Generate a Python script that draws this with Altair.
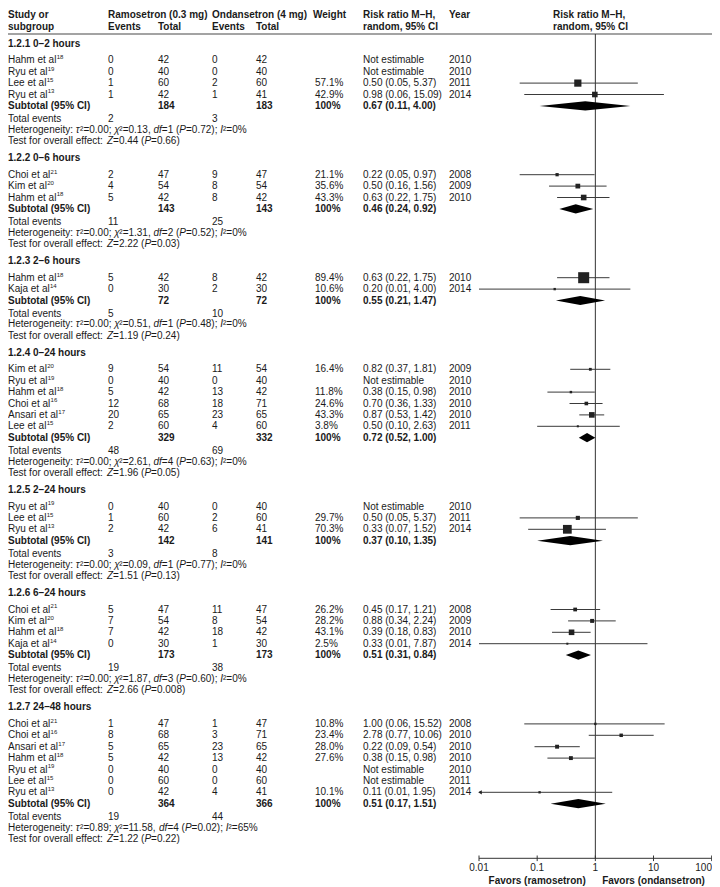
import altair as alt
import pandas as pd

# ---------------- data ----------------
GROUP_LABELS = ["1.2.1 0–2 hours", "1.2.2 0–6 hours", "1.2.3 2–6 hours", "1.2.4 0–24 hours",
                "1.2.5 2–24 hours", "1.2.6 6–24 hours", "1.2.7 24–48 hours"]

STUDY_GROUP = [0, 0, 0, 0, 1, 1, 1, 2, 2, 3, 3, 3, 3, 3, 3, 4, 4, 4, 5, 5, 5, 5, 6, 6, 6, 6, 6, 6, 6]
STUDY_AUTHOR = ["Hahm et al", "Ryu et al", "Lee et al", "Ryu et al",
                "Choi et al", "Kim et al", "Hahm et al",
                "Hahm et al", "Kaja et al",
                "Kim et al", "Ryu et al", "Hahm et al", "Choi et al", "Ansari et al", "Lee et al",
                "Ryu et al", "Lee et al", "Ryu et al",
                "Choi et al", "Kim et al", "Hahm et al", "Kaja et al",
                "Choi et al", "Choi et al", "Ansari et al", "Hahm et al", "Ryu et al", "Lee et al", "Ryu et al"]
STUDY_REF = ["18", "19", "15", "13", "21", "20", "18", "18", "14", "20", "19", "18", "16", "17", "15",
             "19", "15", "13", "21", "20", "18", "14", "21", "16", "17", "18", "19", "15", "13"]
RAMO_EVENTS = [0, 0, 1, 1, 2, 4, 5, 5, 0, 9, 0, 5, 12, 20, 2, 0, 1, 2, 5, 7, 7, 0, 1, 8, 5, 5, 0, 0, 0]
RAMO_TOTAL = [42, 40, 60, 42, 47, 54, 42, 42, 30, 54, 40, 42, 68, 65, 60, 40, 60, 42, 47, 54, 42, 30,
              47, 68, 65, 42, 40, 60, 42]
ONDA_EVENTS = [0, 0, 2, 1, 9, 8, 8, 8, 2, 11, 0, 13, 18, 23, 4, 0, 2, 6, 11, 8, 18, 1, 1, 3, 23, 13, 0, 0, 4]
ONDA_TOTAL = [42, 40, 60, 41, 47, 54, 42, 42, 30, 54, 40, 42, 71, 65, 60, 40, 60, 41, 47, 54, 42, 30,
              47, 71, 65, 42, 40, 60, 41]
WEIGHT = [None, None, 57.1, 42.9, 21.1, 35.6, 43.3, 89.4, 10.6, 16.4, None, 11.8, 24.6, 43.3, 3.8,
          None, 29.7, 70.3, 26.2, 28.2, 43.1, 2.5, 10.8, 23.4, 28.0, 27.6, None, None, 10.1]
RR = [None, None, 0.50, 0.98, 0.22, 0.50, 0.63, 0.63, 0.20, 0.82, None, 0.38, 0.70, 0.87, 0.50,
      None, 0.50, 0.33, 0.45, 0.88, 0.39, 0.33, 1.00, 2.78, 0.22, 0.38, None, None, 0.11]
RR_LO = [None, None, 0.05, 0.06, 0.05, 0.16, 0.22, 0.22, 0.01, 0.37, None, 0.15, 0.36, 0.53, 0.10,
         None, 0.05, 0.07, 0.17, 0.34, 0.18, 0.01, 0.06, 0.77, 0.09, 0.15, None, None, 0.01]
RR_HI = [None, None, 5.37, 15.09, 0.97, 1.56, 1.75, 1.75, 4.00, 1.81, None, 0.98, 1.33, 1.42, 2.63,
         None, 5.37, 1.52, 1.21, 2.24, 0.83, 7.87, 15.52, 10.06, 0.54, 0.98, None, None, 1.95]
YEAR = [2010, 2010, 2011, 2014, 2008, 2009, 2010, 2010, 2014, 2009, 2010, 2010, 2010, 2010, 2011,
        2010, 2011, 2014, 2008, 2009, 2010, 2014, 2008, 2010, 2010, 2010, 2010, 2011, 2014]
CI_CLIPPED_LEFT = [28]  # study whose lower limit runs off the axis (arrow)

SUB_RAMO_TOTAL = [184, 143, 72, 329, 142, 173, 364]
SUB_ONDA_TOTAL = [183, 143, 72, 332, 141, 173, 366]
SUB_RR = [0.67, 0.46, 0.55, 0.72, 0.37, 0.51, 0.51]
SUB_LO = [0.11, 0.24, 0.21, 0.52, 0.10, 0.31, 0.17]
SUB_HI = [4.00, 0.92, 1.47, 1.00, 1.35, 0.84, 1.51]
SUB_RAMO_EVENTS = [2, 11, 5, 48, 3, 19, 19]
SUB_ONDA_EVENTS = [3, 25, 10, 69, 8, 38, 44]
HET_TAU2 = ["0.00", "0.00", "0.00", "0.00", "0.00", "0.00", "0.89"]
HET_CHI2 = ["0.13", "1.31", "0.51", "2.61", "0.09", "1.87", "11.58"]
HET_DF = ["1", "2", "1", "4", "1", "3", "4"]
HET_P = ["0.72", "0.52", "0.48", "0.63", "0.77", "0.60", "0.02"]
HET_I2 = ["0", "0", "0", "0", "0", "0", "65"]
Z_VAL = ["0.44", "2.22", "1.19", "1.96", "1.51", "2.66", "1.22"]
Z_P = ["0.66", "0.03", "0.24", "0.05", "0.13", "0.008", "0.22"]

AXIS_TICKS = [0.01, 0.1, 1, 10, 100]
FAVORS = [(0.1, "Favors (ramosetron)"), (10, "Favors (ondansetron)")]

# ---------------- layout helpers ----------------
W, H = 704, 879
FONT = "Liberation Sans"
TXT = "#1a1a1a"
FS = 10

# Arial / Liberation Sans advance widths (per 1000 em)
AW = {' ': 278, '(': 333, ')': 333, ',': 278, '.': 278, ':': 278, ';': 278, '=': 584, '%': 889,
      '²': 333, 'τ': 430, 'χ': 500,
      'H': 722, 'R': 722, 'L': 556, 'C': 722, 'K': 667, 'A': 667, 'T': 611, 'Z': 611, 'P': 667, 'I': 278,
      'a': 556, 'c': 500, 'd': 556, 'e': 556, 'f': 278, 'g': 556, 'h': 556, 'i': 222, 'j': 222,
      'k': 500, 'l': 222, 'm': 833, 'n': 556, 'o': 556, 'r': 333, 's': 500, 't': 278, 'u': 556,
      'v': 500, 'y': 500}
for d in "0123456789":
    AW[d] = 556


def tw(s, size=FS):
    return sum(AW.get(c, 556) for c in s) * size / 1000.0


# column positions (chart px)
C_STUDY, C_RE, C_RT, C_OE, C_OT, C_W, C_RR, C_YEAR, C_PLOT = 0, 100, 150, 204, 248, 307, 355, 441, 545

N = len(STUDY_GROUP)
study_y = [0.0] * N
head_y, subt_y, tot_y, het_y, test_y = [], [], [], [], []
y = 43.5
for g in range(len(GROUP_LABELS)):
    head_y.append(y)
    y += 16.8
    for i in range(N):
        if STUDY_GROUP[i] == g:
            study_y[i] = y
            y += 11.4
    subt_y.append(y); y += 13.0
    tot_y.append(y); y += 10.8
    het_y.append(y); y += 11.2
    test_y.append(y); y += 17.0

HEAD1, HEAD2, Y_RULE, Y_AXIS = 14.5, 27.0, 34.0, 858.3

items = []


def add(px, yy, t, style="normal"):
    items.append(dict(px=px, y=yy, t=str(t), style=style))


def add_segments(px, yy, segs):
    x = px
    for s, st in segs:
        add(x, yy, s, st)
        x += tw(s)


# header
add(C_STUDY, HEAD1, "Study or", "bold"); add(C_STUDY, HEAD2, "subgroup", "bold")
add(C_RE, HEAD1, "Ramosetron (0.3 mg)", "bold"); add(C_RE, HEAD2, "Events", "bold"); add(C_RT, HEAD2, "Total", "bold")
add(C_OE, HEAD1, "Ondansetron (4 mg)", "bold"); add(C_OE, HEAD2, "Events", "bold"); add(C_OT, HEAD2, "Total", "bold")
add(C_W - 2, HEAD1, "Weight", "bold")
add(C_RR, HEAD1, "Risk ratio M–H,", "bold"); add(C_RR, HEAD2, "random, 95% CI", "bold")
add(C_YEAR, HEAD1, "Year", "bold")
add(C_PLOT, HEAD1, "Risk ratio M–H,", "bold"); add(C_PLOT, HEAD2, "random, 95% CI", "bold")

for g in range(len(GROUP_LABELS)):
    add(C_STUDY, head_y[g], GROUP_LABELS[g], "bold")
    add(C_STUDY, subt_y[g], "Subtotal (95% CI)", "bold")
    add(C_RT, subt_y[g], SUB_RAMO_TOTAL[g], "bold")
    add(C_OT, subt_y[g], SUB_ONDA_TOTAL[g], "bold")
    add(C_W, subt_y[g], "100%", "bold")
    add(C_RR, subt_y[g], f"{SUB_RR[g]:.2f} ({SUB_LO[g]:.2f}, {SUB_HI[g]:.2f})", "bold")
    add(C_STUDY, tot_y[g], "Total events")
    add(C_RE, tot_y[g], SUB_RAMO_EVENTS[g])
    add(C_OE, tot_y[g], SUB_ONDA_EVENTS[g])
    add_segments(C_STUDY, het_y[g], [
        ("Heterogeneity: ", "normal"), ("τ", "italic"), (f"²={HET_TAU2[g]}; ", "normal"),
        ("χ", "italic"), (f"²={HET_CHI2[g]}, ", "normal"), ("df", "italic"),
        (f"={HET_DF[g]} (", "normal"), ("P", "italic"), (f"={HET_P[g]}); ", "normal"),
        ("I", "italic"), (f"²={HET_I2[g]}%", "normal")])
    add_segments(C_STUDY, test_y[g], [
        ("Test for overall effect: ", "normal"), ("Z", "italic"), (f"={Z_VAL[g]} (", "normal"),
        ("P", "italic"), (f"={Z_P[g]})", "normal")])

for i in range(N):
    yy = study_y[i]
    add(C_STUDY, yy, STUDY_AUTHOR[i])
    add(C_STUDY + tw(STUDY_AUTHOR[i]) + 0.3, yy - 3.2, STUDY_REF[i], "sup")
    add(C_RE, yy, RAMO_EVENTS[i]); add(C_RT, yy, RAMO_TOTAL[i])
    add(C_OE, yy, ONDA_EVENTS[i]); add(C_OT, yy, ONDA_TOTAL[i])
    if WEIGHT[i] is not None:
        add(C_W, yy, f"{WEIGHT[i]:.1f}%")
        add(C_RR, yy, f"{RR[i]:.2f} ({RR_LO[i]:.2f}, {RR_HI[i]:.2f})")
    else:
        add(C_RR, yy, "Not estimable")
    add(C_YEAR, yy, YEAR[i])

tdf = pd.DataFrame(items)

# ---------------- scales ----------------
YS = alt.Scale(domain=[8, 8 + H], range=[0, H])
XS = alt.Scale(type="log", domain=[0.01, 100], range=[471, 703.7], nice=False)


def text_layer(style, **kw):
    df = tdf[tdf["style"] == style]
    props = dict(align="left", baseline="middle", font=FONT, fontSize=FS, color=TXT)
    props.update(kw)
    return alt.Chart(df).mark_text(**props).encode(
        x=alt.X("px:Q", scale=None, axis=None),
        y=alt.Y("y:Q", scale=YS, axis=None),
        text="t:N",
    )


layers = []

# header rule
layers.append(alt.Chart(pd.DataFrame({"a": [0], "b": [W], "y": [Y_RULE]})).mark_rule(
    color="#a3a3a3", strokeWidth=2).encode(
    x=alt.X("a:Q", scale=None, axis=None), x2="b:Q", y=alt.Y("y:Q", scale=YS, axis=None)))

# vertical line of no effect
layers.append(alt.Chart(pd.DataFrame({"v": [1.0], "y1": [Y_RULE], "y2": [Y_AXIS]})).mark_rule(
    color="#333333", strokeWidth=1).encode(
    x=alt.X("v:Q", scale=XS, axis=None), y=alt.Y("y1:Q", scale=YS, axis=None), y2="y2:Q"))

# study CIs and squares
sdf = pd.DataFrame({"rr": RR, "lo": RR_LO, "hi": RR_HI, "w": WEIGHT, "y": study_y}).dropna()
layers.append(alt.Chart(sdf).mark_rule(color="#3a3a3a", strokeWidth=1).encode(
    x=alt.X("lo:Q", scale=XS, axis=None), x2="hi:Q", y=alt.Y("y:Q", scale=YS, axis=None)))
layers.append(alt.Chart(sdf).mark_square(filled=True, color="#222222", opacity=1).encode(
    x=alt.X("rr:Q", scale=XS, axis=None), y=alt.Y("y:Q", scale=YS, axis=None),
    size=alt.Size("w:Q", scale=alt.Scale(type="pow", exponent=2, domain=[0, 100], range=[4, 151]),
                  legend=None)))

# arrow for clipped CI
adf = pd.DataFrame({"v": [0.01 for _ in CI_CLIPPED_LEFT], "y": [study_y[i] for i in CI_CLIPPED_LEFT]})
layers.append(alt.Chart(adf).mark_point(shape="triangle-left", filled=True, size=18, color="#222222",
                                        opacity=1, xOffset=1).encode(
    x=alt.X("v:Q", scale=XS, axis=None), y=alt.Y("y:Q", scale=YS, axis=None)))

# subtotal diamonds
drows = []
HALF = 4.6
for g in range(len(GROUP_LABELS)):
    c = subt_y[g]
    drows.append(dict(g=g, xv=SUB_LO[g], yt=c, yb=c))
    drows.append(dict(g=g, xv=SUB_RR[g], yt=c - HALF, yb=c + HALF))
    drows.append(dict(g=g, xv=SUB_HI[g], yt=c, yb=c))
layers.append(alt.Chart(pd.DataFrame(drows)).mark_area(color="black", orient="vertical", opacity=1).encode(
    x=alt.X("xv:Q", scale=XS, axis=None),
    y=alt.Y("yt:Q", scale=YS, axis=None, stack=None), y2="yb:Q", detail="g:N"))

# axis
layers.append(alt.Chart(pd.DataFrame({"a": [AXIS_TICKS[0]], "b": [AXIS_TICKS[-1]], "y": [Y_AXIS]})).mark_rule(
    color="#333333", strokeWidth=1).encode(
    x=alt.X("a:Q", scale=XS, axis=None), x2="b:Q", y=alt.Y("y:Q", scale=YS, axis=None)))
tick_df = pd.DataFrame({"v": AXIS_TICKS, "y1": [Y_AXIS - 2.8] * len(AXIS_TICKS),
                        "y2": [Y_AXIS + 2.8] * len(AXIS_TICKS),
                        "yl": [868.3] * len(AXIS_TICKS), "t": [f"{v:g}" for v in AXIS_TICKS]})
layers.append(alt.Chart(tick_df).mark_rule(color="#333333", strokeWidth=1).encode(
    x=alt.X("v:Q", scale=XS, axis=None), y=alt.Y("y1:Q", scale=YS, axis=None), y2="y2:Q"))
# inner tick labels centred; the last one kept inside the page's right edge
layers.append(alt.Chart(tick_df.iloc[:-1]).mark_text(align="center", baseline="middle", font=FONT,
                                                     fontSize=FS, color=TXT).encode(
    x=alt.X("v:Q", scale=XS, axis=None), y=alt.Y("yl:Q", scale=YS, axis=None), text="t:N"))
layers.append(alt.Chart(tick_df.iloc[-1:]).mark_text(align="right", baseline="middle", font=FONT,
                                                     fontSize=FS, color=TXT, dx=0.3).encode(
    x=alt.X("v:Q", scale=XS, axis=None), y=alt.Y("yl:Q", scale=YS, axis=None), text="t:N"))
fav_df = pd.DataFrame({"v": [f[0] for f in FAVORS], "t": [f[1] for f in FAVORS], "y": [880.5] * len(FAVORS)})
layers.append(alt.Chart(fav_df).mark_text(align="center", baseline="middle", font=FONT, fontSize=FS,
                                          fontWeight="bold", color=TXT).encode(
    x=alt.X("v:Q", scale=XS, axis=None), y=alt.Y("y:Q", scale=YS, axis=None), text="t:N"))

# table texts
layers.append(text_layer("normal"))
layers.append(text_layer("bold", fontWeight="bold"))
layers.append(text_layer("italic", fontStyle="italic"))
layers.append(text_layer("sup", fontSize=6))

chart = alt.layer(*layers).resolve_scale(x="independent").properties(
    width=W, height=H, padding=0, autosize=alt.AutoSizeParams(type="none")
).configure_view(stroke=None)

chart.save("out.html", embed_options={"renderer": "svg", "actions": False})
